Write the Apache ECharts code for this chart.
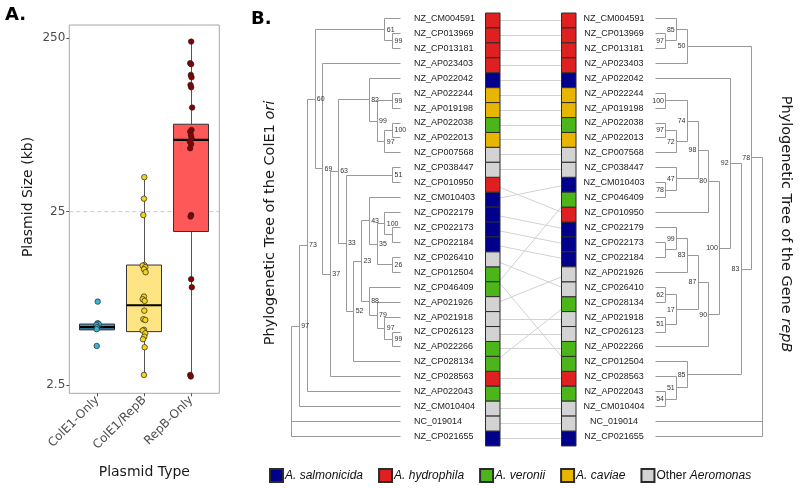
<!DOCTYPE html>
<html><head><meta charset="utf-8">
<script src="https://cdn.jsdelivr.net/npm/echarts@6/dist/echarts.min.js"></script>
<style>html,body{margin:0;padding:0;background:#fff}#c{width:800px;height:488px}</style>
</head><body><div id="c"></div><script>
// ---------- Panel A data ----------
const plasmidTypes = ['ColE1-Only', 'ColE1/RepB', 'RepB-Only'];
const boxLower  = [5.20, 2.86, 2.80];
const boxQ1     = [5.20, 5.08, 19.2];
const boxMedian = [5.40, 7.21, 64.8];
const boxQ3     = [5.62, 12.3, 79.8];
const boxUpper  = [5.68, 39.5, 239];
const ptsColE1Only = [7.57, 5.68, 5.61, 5.55, 5.39, 5.25, 4.2];
const jitColE1Only = [0.006, 0.006, 0.028, -0.023, -0.009, -0.015, -0.015];
const ptsColE1RepB = [39.5, 29.7, 23.9, 12.3, 12.2, 11.95, 11.63, 11.18, 8.09, 7.81, 7.64, 6.71, 5.99, 5.93, 5.20, 5.15, 4.97, 4.75, 4.59, 4.13, 2.86];
const jitColE1RepB = [0, -0.007, -0.021, 0, -0.035, 0.021, -0.007, 0.028, -0.007, -0.035, 0.007, 0, -0.021, 0.021, -0.007, -0.035, 0.021, 0, -0.028, 0.007, -0.007];
const ptsRepBOnly = [239, 179.5, 177.1, 153.6, 148.9, 134.5, 130.4, 99.5, 74, 72.3, 69.2, 66.3, 63.3, 61.4, 58, 23.9, 23.4, 10.2, 9.16, 2.86, 2.80];
const jitRepBOnly = [0, -0.021, 0, -0.007, 0.007, -0.014, 0, 0.021, 0.007, -0.021, -0.007, 0.007, -0.028, 0, -0.021, 0, -0.014, 0, 0.014, -0.021, -0.007];
const yTickValues = [2.5, 25, 250];
const yRange = [2.24, 298];
const refLineValue = 25;

// ---------- Panel B data ----------
const speciesNames = ['A. salmonicida', 'A. hydrophila', 'A. veronii', 'A. caviae', 'Other Aeromonas'];
const leftTips = ['NZ_CM004591','NZ_CP013969','NZ_CP013181','NZ_AP023403','NZ_AP022042','NZ_AP022244','NZ_AP019198','NZ_AP022038','NZ_AP022013','NZ_CP007568','NZ_CP038447','NZ_CP010950','NZ_CM010403','NZ_CP022179','NZ_CP022173','NZ_CP022184','NZ_CP026410','NZ_CP012504','NZ_CP046409','NZ_AP021926','NZ_AP021918','NZ_CP026123','NZ_AP022266','NZ_CP028134','NZ_CP028563','NZ_AP022043','NZ_CM010404','NC_019014','NZ_CP021655'];
const leftTipSpecies = [1,1,1,1,0,3,3,2,3,4,4,1,0,0,0,0,4,2,2,4,4,4,2,2,1,2,4,4,0];
const rightTips = ['NZ_CM004591','NZ_CP013969','NZ_CP013181','NZ_AP023403','NZ_AP022042','NZ_AP022244','NZ_AP019198','NZ_AP022038','NZ_AP022013','NZ_CP007568','NZ_CP038447','NZ_CM010403','NZ_CP046409','NZ_CP010950','NZ_CP022179','NZ_CP022173','NZ_CP022184','NZ_AP021926','NZ_CP026410','NZ_CP028134','NZ_AP021918','NZ_CP026123','NZ_AP022266','NZ_CP012504','NZ_CP028563','NZ_AP022043','NZ_CM010404','NC_019014','NZ_CP021655'];
const leftTreeNewick = "(((((NZ_CM004591,(NZ_CP013969,NZ_CP013181)99)61,(NZ_AP023403,(((NZ_AP022042,((NZ_AP022244,NZ_AP019198)99,((NZ_AP022038,NZ_AP022013)100,NZ_CP007568)97)99)82,((NZ_CP038447,NZ_CP010950)51,(((NZ_CM010403,((NZ_CP022179,(NZ_CP022173,NZ_CP022184))100,(NZ_CP026410,NZ_CP012504)26)35)43,(NZ_CP046409,(NZ_AP021926,(NZ_AP021918,(NZ_CP026123,NZ_AP022266)99)97)79)88)23,NZ_CP028134)52)33)63,NZ_CP028563)37)69)60,NZ_AP022043)73,NZ_CM010404)97,NC_019014,NZ_CP021655);";
const rightTreeNewick = "((((NZ_CM004591,(NZ_CP013969,NZ_CP013181)97)85,NZ_AP023403)50,((NZ_AP022042,(((((NZ_AP022244,NZ_AP019198)100,((NZ_AP022038,NZ_AP022013)97,NZ_CP007568)72)74,(NZ_CP038447,(NZ_CM010403,NZ_CP046409)78)47)98,NZ_CP010950)80,((((NZ_CP022179,(NZ_CP022173,NZ_CP022184))99,NZ_AP021926)83,((NZ_CP026410,NZ_CP028134)62,(NZ_AP021918,NZ_CP026123)51)17)87,NZ_AP022266)90)100)92,(NZ_CP012504,(NZ_CP028563,(NZ_AP022043,NZ_CM010404)54)51)85)83)78,NC_019014,NZ_CP021655);";

// ---------- styles ----------
const speciesColors = ['#00008b', '#de2020', '#4cb51a', '#e8b500', '#d3d3d3'];
const boxFills = ['#4592b5', '#ffe483', '#ff5858'];
const pointFills = ['#3ab4da', '#f7d31a', '#8b0000'];
const fontA = 'DejaVu Sans';
const fontB = 'Liberation Sans';

// ---------- tree helpers ----------
function parseNewick(s) {
  let i = 0;
  function node() {
    const n = { children: [], name: '', label: '' };
    if (s[i] === '(') {
      i++;
      n.children.push(node());
      while (s[i] === ',') { i++; n.children.push(node()); }
      i++;
    }
    let t = '';
    while (i < s.length && !',();'.includes(s[i])) t += s[i++];
    if (n.children.length) n.label = t; else n.name = t;
    return n;
  }
  return node();
}
function layoutTree(root, sign) {
  let row = 0;
  const segs = [], labels = [], tips = [];
  (function walk(n) {
    if (!n.children.length) { n.h = 0; n.y = ++row; tips.push(n); }
    else {
      n.children.forEach(walk);
      n.h = 1 + Math.max(...n.children.map(c => c.h));
      n.y = (n.children[0].y + n.children[n.children.length - 1].y) / 2;
    }
    n.x = sign * n.h;
  })(root);
  (function seg(n) {
    if (!n.children.length) return;
    const f = n.children[0], l = n.children[n.children.length - 1];
    segs.push([n.x, f.y, n.x, l.y]);
    n.children.forEach(c => { segs.push([n.x, c.y, c.x, c.y]); seg(c); });
    if (n.label) labels.push([n.x, n.y, n.label]);
  })(root);
  return { root, segs, labels, tips };
}
const LT = layoutTree(parseNewick(leftTreeNewick), -1);
const RT = layoutTree(parseNewick(rightTreeNewick), 1);
const rightRowOf = {};
RT.tips.forEach(t => { rightRowOf[t.name] = t.y; });
const leftRowOf = {};
LT.tips.forEach(t => { leftRowOf[t.name] = t.y; });

const cr = v => Math.round(v - 0.5) + 0.5;
function segRender(color) {
  return function (p, api) {
    const a = api.coord([api.value(0), api.value(1)]);
    const b = api.coord([api.value(2), api.value(3)]);
    return { type: 'line', shape: { x1: cr(a[0]), y1: cr(a[1]), x2: cr(b[0]), y2: cr(b[1]) },
      style: { stroke: color, lineWidth: 1 } };
  };
}
function textRender(texts, dx, align, size, color) {
  return function (p, api) {
    const c = api.coord([api.value(0), api.value(1)]);
    return { type: 'text', x: c[0] + dx, y: c[1],
      style: { text: texts[p.dataIndex], fill: color, fontSize: size, fontFamily: fontB, align: align, verticalAlign: 'middle' } };
  };
}

const L10 = Math.log10;
const series = [];
// reference dashed line at 25
series.push({ type: 'line', xAxisIndex: 0, yAxisIndex: 0, z: 1, symbol: 'none', silent: true,
  data: [[0.4, L10(refLineValue)], [3.6, L10(refLineValue)]],
  lineStyle: { color: '#c9c9c9', width: 1, type: [4, 3] } });
// boxes
series.push({ type: 'custom', xAxisIndex: 0, yAxisIndex: 0, z: 2, silent: true,
  encode: { x: 0, y: [1, 2, 3, 4, 5] },
  data: plasmidTypes.map((t, i) => [i + 1, L10(boxLower[i]), L10(boxQ1[i]), L10(boxMedian[i]), L10(boxQ3[i]), L10(boxUpper[i])]),
  renderItem: function (p, api) {
    const c = api.value(0);
    const lo = api.coord([c, api.value(1)]), q1 = api.coord([c, api.value(2)]), md = api.coord([c, api.value(3)]);
    const q3 = api.coord([c, api.value(4)]), hi = api.coord([c, api.value(5)]);
    const w = api.size([0.75, 0])[0];
    const x = cr(md[0]);
    return { type: 'group', children: [
      { type: 'line', shape: { x1: x, y1: lo[1], x2: x, y2: q1[1] }, style: { stroke: '#555', lineWidth: 1 } },
      { type: 'line', shape: { x1: x, y1: q3[1], x2: x, y2: hi[1] }, style: { stroke: '#555', lineWidth: 1 } },
      { type: 'rect', shape: { x: cr(md[0] - w / 2), y: q3[1], width: Math.round(w), height: q1[1] - q3[1] },
        style: { fill: boxFills[p.dataIndex], stroke: '#333', lineWidth: 1 } },
      { type: 'line', shape: { x1: md[0] - w / 2, y1: md[1], x2: md[0] + w / 2, y2: md[1] }, style: { stroke: '#000', lineWidth: 2.2 } }
    ] };
  } });
// jittered points
[[ptsColE1Only, jitColE1Only], [ptsColE1RepB, jitColE1RepB], [ptsRepBOnly, jitRepBOnly]].forEach((pair, i) => {
  series.push({ type: 'scatter', xAxisIndex: 0, yAxisIndex: 0, z: 3, silent: true, symbolSize: 5.5,
    itemStyle: { color: pointFills[i], borderColor: '#222', borderWidth: 0.7, opacity: 1 },
    data: pair[0].map((v, k) => [i + 1 + pair[1][k], L10(v)]) });
});
// left tree
series.push({ type: 'custom', xAxisIndex: 1, yAxisIndex: 1, silent: true, clip: false, encode: { x: [0, 2], y: [1, 3] },
  data: LT.segs, renderItem: segRender('#999999') });
series.push({ type: 'custom', xAxisIndex: 1, yAxisIndex: 1, silent: true, clip: false, z: 4, encode: { x: 0, y: 1 },
  data: LT.labels.map(l => [l[0], l[1]]), renderItem: textRender(LT.labels.map(l => l[2]), 1.8, 'left', 7, '#333') });
series.push({ type: 'custom', xAxisIndex: 1, yAxisIndex: 1, silent: true, clip: false, encode: { x: 0, y: 1 },
  data: LT.tips.map(t => [t.x, t.y]), renderItem: textRender(LT.tips.map(t => t.name), 13.5, 'left', 9, '#222') });
// tanglegram connections
series.push({ type: 'custom', xAxisIndex: 2, yAxisIndex: 2, silent: true, clip: false, z: 1, encode: { x: [0, 2], y: [1, 3] },
  data: leftTips.map(n => [0, leftRowOf[n], 1, rightRowOf[n]]), renderItem: segRender('#d2d2d2') });
// species boxes
speciesNames.forEach((sn, s) => {
  const d = [];
  leftTips.forEach((n, k) => { if (leftTipSpecies[k] === s) { d.push([0, leftRowOf[n]]); d.push([1, rightRowOf[n]]); } });
  series.push({ type: 'custom', name: sn, xAxisIndex: 2, yAxisIndex: 2, silent: true, clip: false, z: 3, encode: { x: 0, y: 1 },
    itemStyle: { color: speciesColors[s], borderColor: '#2b2b2b', borderWidth: 1 },
    data: d,
    renderItem: function (p, api) {
      const c = api.coord([api.value(0), api.value(1)]);
      const h = api.size([0, 1])[1];
      return { type: 'rect', shape: { x: Math.round(c[0] - 7.25) + 0.5, y: c[1] - h / 2, width: 14.5, height: h },
        style: { fill: api.visual('color'), stroke: '#2b2b2b', lineWidth: 1 } };
    } });
});
// right tree
series.push({ type: 'custom', xAxisIndex: 3, yAxisIndex: 3, silent: true, clip: false, encode: { x: [0, 2], y: [1, 3] },
  data: RT.segs, renderItem: segRender('#999999') });
series.push({ type: 'custom', xAxisIndex: 3, yAxisIndex: 3, silent: true, clip: false, z: 4, encode: { x: 0, y: 1 },
  data: RT.labels.map(l => [l[0], l[1]]), renderItem: textRender(RT.labels.map(l => l[2]), -1.8, 'right', 7, '#333') });
series.push({ type: 'custom', xAxisIndex: 3, yAxisIndex: 3, silent: true, clip: false, encode: { x: 0, y: 1 },
  data: RT.tips.map(t => [t.x, t.y]), renderItem: textRender(RT.tips.map(t => t.name), -41, 'center', 9, '#222') });

const hiddenAxis = { show: false, splitLine: { show: false } };
const rowAxis = (gi) => Object.assign({ gridIndex: gi, type: 'value', min: 1, max: leftTips.length, inverse: true }, hiddenAxis);

const option = {
  animation: false,
  backgroundColor: '#fff',
  title: [
    { text: 'A.', left: 0, top: 1, textStyle: { fontFamily: fontA, fontWeight: 'bold', fontSize: 18, color: '#000' } },
    { text: 'B.', left: 246, top: 5, textStyle: { fontFamily: fontA, fontWeight: 'bold', fontSize: 18, color: '#000' } }
  ],
  legend: {
    data: speciesNames, left: 264, top: 463, icon: 'rect', itemWidth: 13, itemHeight: 13, itemGap: 15,
    selectedMode: false,
    formatter: n => n.indexOf('Other') === 0 ? 'Other {i|Aeromonas}' : '{i|' + n + '}',
    textStyle: { fontFamily: fontB, fontSize: 12, color: '#111', padding: [0, 0, 0, -3],
      rich: { i: { fontFamily: fontB, fontSize: 12, fontStyle: 'italic', color: '#111' } } }
  },
  grid: [
    { left: 69.3, top: 25, width: 150, height: 368.3, show: true, borderColor: '#a8a8a8', borderWidth: 1, backgroundColor: '#fff' },
    { left: 291.7, top: 18.5, width: 108.8, height: 418 },
    { left: 492.25, top: 20.5, width: 75.5, height: 418 },
    { left: 655, top: 18.5, width: 107.7, height: 418 }
  ],
  xAxis: [
    { gridIndex: 0, type: 'value', min: 0.4, max: 3.6, splitLine: { show: false }, axisLine: { show: false },
      axisTick: { show: true, customValues: [1, 2, 3], length: 3, lineStyle: { color: '#555' } },
      axisLabel: { customValues: [1, 2, 3], formatter: v => plasmidTypes[Math.round(v) - 1], rotate: 45, margin: 5,
        fontFamily: fontA, fontSize: 12, color: '#4d4d4d' },
      name: 'Plasmid Type', nameLocation: 'middle', nameGap: 72,
      nameTextStyle: { fontFamily: fontA, fontSize: 14, color: '#1a1a1a' } },
    Object.assign({ gridIndex: 1, type: 'value', min: -LT.root.h, max: 0 }, hiddenAxis),
    Object.assign({ gridIndex: 2, type: 'value', min: 0, max: 1 }, hiddenAxis),
    Object.assign({ gridIndex: 3, type: 'value', min: 0, max: RT.root.h }, hiddenAxis)
  ],
  yAxis: [
    { gridIndex: 0, type: 'value', min: L10(yRange[0]), max: L10(yRange[1]), splitLine: { show: false }, axisLine: { show: false },
      axisTick: { show: true, customValues: yTickValues.map(L10), length: 3, lineStyle: { color: '#555' } },
      axisLabel: { customValues: yTickValues.map(L10), margin: 4, fontFamily: fontA, fontSize: 12, color: '#4d4d4d',
        formatter: v => { const r = Math.pow(10, v); return r < 10 ? r.toFixed(1) : String(Math.round(r)); } } },
    rowAxis(1), rowAxis(2), rowAxis(3)
  ],
  graphic: [
    { type: 'text', x: 28.5, y: 197, rotation: Math.PI / 2, silent: true,
      style: { text: 'Plasmid Size (kb)', fontFamily: fontA, fontSize: 14, fill: '#1a1a1a', align: 'center', verticalAlign: 'middle' } },
    { type: 'text', x: 270, y: 223, rotation: Math.PI / 2, silent: true,
      style: { text: 'Phylogenetic Tree of the ColE1 {i|ori}', fontFamily: fontA, fontSize: 14.5, fill: '#1a1a1a', align: 'center', verticalAlign: 'middle',
        rich: { i: { fontFamily: fontA, fontSize: 14.5, fontStyle: 'italic', fill: '#1a1a1a' } } } },
    { type: 'text', x: 786, y: 224, rotation: -Math.PI / 2, silent: true,
      style: { text: 'Phylogenetic Tree of the Gene {i|repB}', fontFamily: fontA, fontSize: 14.5, fill: '#1a1a1a', align: 'center', verticalAlign: 'middle',
        rich: { i: { fontFamily: fontA, fontSize: 14.5, fontStyle: 'italic', fill: '#1a1a1a' } } } }
  ],
  series: series
};
const chart = echarts.init(document.getElementById('c'), null, { renderer: 'canvas' });
chart.setOption(option);
</script></body></html>
